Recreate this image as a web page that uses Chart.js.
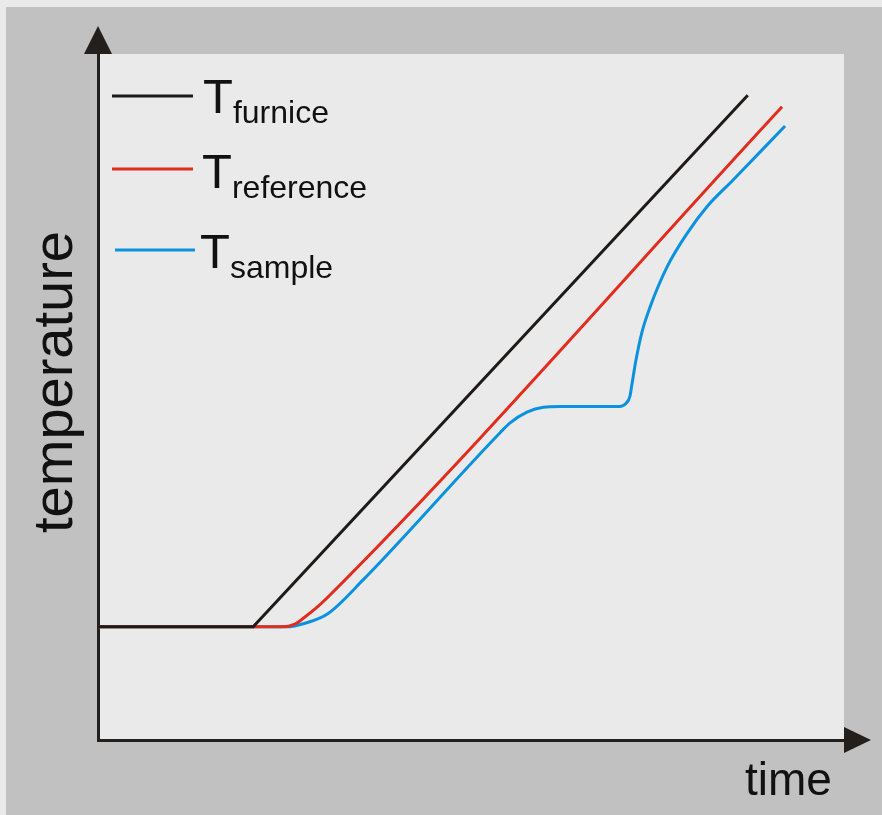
<!DOCTYPE html>
<html>
<head>
<meta charset="utf-8">
<style>
  html, body { margin: 0; padding: 0; background: #eaeaea; }
  #wrap { position: relative; width: 882px; height: 815px; }
</style>
<script src="https://cdn.jsdelivr.net/npm/chart.js@4/dist/chart.umd.min.js"></script>
</head>
<body>
<div id="wrap"><canvas id="c"></canvas></div>
<script>
// Schematic DTA heating curves: time and temperature in arbitrary units (0–100)
const furnaceTime   = [0, 20.8, 87.1];
const furnaceTemp   = [16.5, 16.5, 94.0];

const referenceTime = [0, 24.6, 26.4, 27.7, 29.1, 30.7, 91.7];
const referenceTemp = [16.5, 16.5, 16.9, 17.9, 19.1, 20.7, 92.3];

const sampleTime = [0, 25.1, 28.0, 30.8, 35.5, 53.9, 55.2, 57.5, 59.7, 62.0, 69.6, 70.8, 71.3, 71.55, 72.1, 72.9, 74.0, 76.3, 79.0, 81.6, 85.1, 92.1];
const sampleTemp = [16.5, 16.5, 17.1, 18.4, 23.3, 44.8, 46.2, 47.8, 48.5, 48.6, 48.6, 49.1, 50.1, 51.7, 55.3, 59.4, 63.1, 69.0, 73.9, 77.7, 81.6, 89.5];

const seriesNames = ['furnice', 'reference', 'sample'];
const axisTitles = { x: 'time', y: 'temperature' };

const toPoints = (xs, ys) => xs.map((x, i) => ({ x: x, y: ys[i] }));

const INK = '#1e1a18';
const AXIS = '#231f1c';
const FONT = '"Liberation Sans", Arial, sans-serif';

// Backgrounds, arrowheads, axis titles and the T-subscript legend
const decor = {
  id: 'decor',
  beforeDraw(chart) {
    const ctx = chart.ctx, a = chart.chartArea;
    ctx.save();
    ctx.fillStyle = '#eaeaea';
    ctx.fillRect(0, 0, chart.width, chart.height);
    ctx.fillStyle = '#c1c1c1';
    ctx.fillRect(6, 7, chart.width - 6, chart.height - 7);
    ctx.fillStyle = '#eaeaea';
    ctx.fillRect(a.left, a.top, a.right - a.left, a.bottom - a.top);
    ctx.restore();
  },
  afterDraw(chart) {
    const ctx = chart.ctx, a = chart.chartArea;
    ctx.save();
    // arrowheads
    ctx.fillStyle = AXIS;
    ctx.beginPath();
    ctx.moveTo(a.left, a.top - 28);
    ctx.lineTo(a.left - 14, a.top);
    ctx.lineTo(a.left + 14, a.top);
    ctx.closePath();
    ctx.fill();
    ctx.beginPath();
    ctx.moveTo(a.right + 27, a.bottom);
    ctx.lineTo(a.right, a.bottom - 13);
    ctx.lineTo(a.right, a.bottom + 13);
    ctx.closePath();
    ctx.fill();

    // axis titles
    ctx.fillStyle = '#111';
    ctx.textBaseline = 'alphabetic';
    ctx.font = '46px ' + FONT;
    ctx.textAlign = 'left';
    ctx.fillText(axisTitles.x, 745, 795);
    ctx.save();
    ctx.translate(72, 382);
    ctx.rotate(-Math.PI / 2);
    ctx.font = '56px ' + FONT;
    ctx.textAlign = 'center';
    ctx.fillText(axisTitles.y, 0, 0);
    ctx.restore();

    // legend
    const rows = [
      { y: 96,  x0: 112, x1: 193, tx: 203, base: 113 },
      { y: 169, x0: 112, x1: 193, tx: 202, base: 188 },
      { y: 250, x0: 115, x1: 195, tx: 200, base: 268 }
    ];
    chart.data.datasets.forEach((ds, i) => {
      const r = rows[i];
      ctx.strokeStyle = ds.borderColor;
      ctx.lineWidth = 3;
      ctx.beginPath();
      ctx.moveTo(r.x0, r.y);
      ctx.lineTo(r.x1, r.y);
      ctx.stroke();
      ctx.fillStyle = '#111';
      ctx.textAlign = 'left';
      ctx.font = '49px ' + FONT;
      ctx.fillText('T', r.tx, r.base);
      const w = ctx.measureText('T').width;
      ctx.font = '32px ' + FONT;
      ctx.fillText(ds.label, r.tx + w, r.base + 10);
    });
    ctx.restore();
  }
};

new Chart(document.getElementById('c'), {
  type: 'line',
  data: {
    datasets: [
      { label: seriesNames[0], data: toPoints(furnaceTime, furnaceTemp), borderColor: INK, borderWidth: 3, tension: 0, pointRadius: 0 },
      { label: seriesNames[1], data: toPoints(referenceTime, referenceTemp), borderColor: '#e02d1e', borderWidth: 3, cubicInterpolationMode: 'monotone', pointRadius: 0 },
      { label: seriesNames[2], data: toPoints(sampleTime, sampleTemp), borderColor: '#0a92df', borderWidth: 3, cubicInterpolationMode: 'monotone', pointRadius: 0 }
    ]
  },
  options: {
    responsive: true,
    maintainAspectRatio: false,
    animation: false,
    events: [],
    layout: { padding: { left: 98, top: 54, right: 38, bottom: 75 } },
    plugins: { legend: { display: false }, tooltip: { enabled: false } },
    scales: {
      x: {
        type: 'linear', min: 0, max: 100,
        grid: { display: false, drawTicks: false },
        ticks: { display: false },
        border: { display: true, color: AXIS, width: 3 }
      },
      y: {
        type: 'linear', min: 0, max: 100,
        grid: { display: false, drawTicks: false },
        ticks: { display: false },
        border: { display: true, color: AXIS, width: 3 }
      }
    }
  },
  plugins: [decor]
});
</script>
</body>
</html>
